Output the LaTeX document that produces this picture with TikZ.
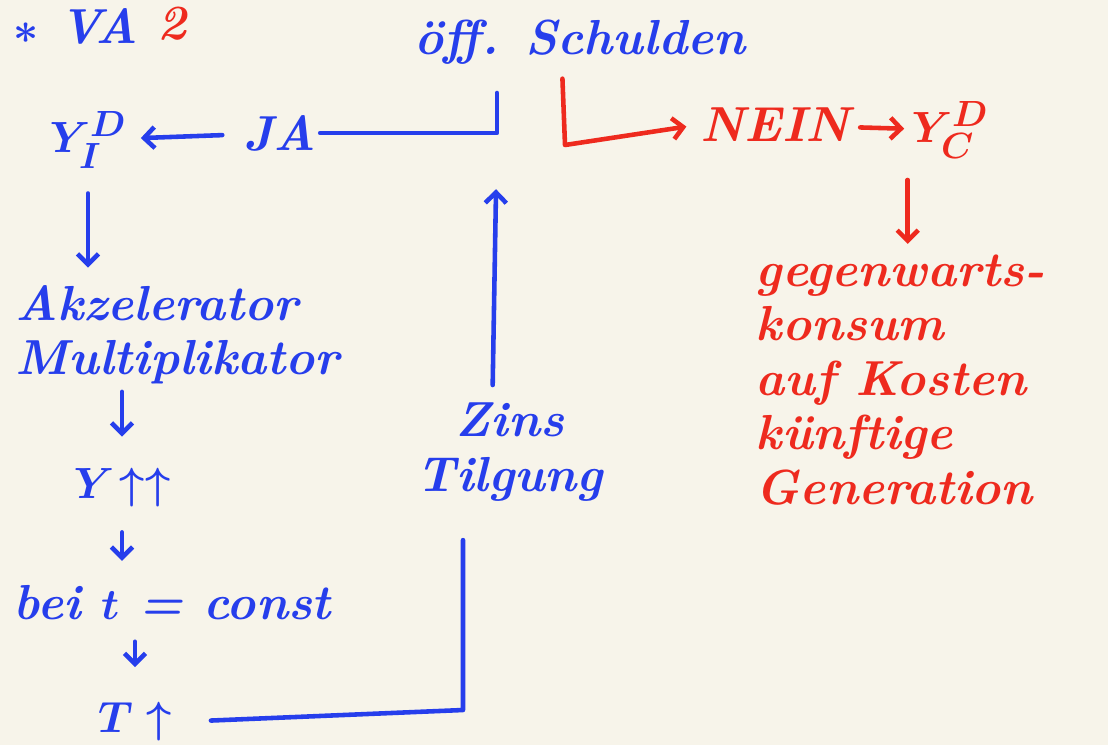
\documentclass[tikz,border=0pt]{standalone}
\usepackage{xcolor}
\usepackage{tikz}
\usepackage{amsmath}
\usetikzlibrary{arrows.meta, positioning}

\definecolor{stift}{RGB}{38,62,236}
\definecolor{rotstift}{RGB}{238,42,30}
\definecolor{papier}{RGB}{247,244,234}

\begin{document}
\begin{tikzpicture}[x=0.02cm,y=-0.02cm,
    hand/.style={font=\fontsize{28}{31}\selectfont\bfseries\itshape\boldmath, inner sep=2pt},
    strich/.style={line width=2.6pt, line cap=round, line join=round},
    pfeil/.style={strich, -{Straight Barb[length=6pt,width=12pt]}}]
        \fill[papier] (0,0) rectangle (1108,745);
        \useasboundingbox (0,0) rectangle (1108,745);
        % blau
        \begin{scope}[every node/.style={hand,text=stift}]
          \node (va) at (76,26) {$\ast$ VA};
          \node (schulden) at (580,42) {öff. Schulden};
          \node (yi) at (88,140) {$Y^{D}_{I}$};
          \node (ja) at (280,133) {JA};
          \node[align=left, anchor=west] (akz) at (12,335) {Akzelerator\\Multiplikator};
          \node (yup) at (122,488) {$Y\!\uparrow\uparrow$};
          \node[anchor=west] (bei) at (10,603) {bei $t$ = const};
          \node (tup) at (135,722) {$T\uparrow$};
          \node[align=center] (zins) at (510,452) {Zins\\Tilgung};
        \end{scope}
        % rot
        \begin{scope}[every node/.style={hand,text=rotstift}]
          \node (vamark) at (172,24) {2};
          \node (nein) at (775,125) {NEIN};
          \node (yc) at (950,130) {$Y^{D}_{C}$};
          \node[align=left, anchor=west] (gegen) at (752,380) {gegenwarts-\\konsum\\auf Kosten\\künftige\\Generation};
        \end{scope}
        \coordinate (knick) at (497,133);
        \coordinate (ecke) at (463,710);
        \coordinate (haken) at (565,145);
        \begin{scope}[every edge/.style={draw=stift,pfeil}]
          \path (ja) edge[shorten <=10pt, shorten >=6pt] (yi);
          \path (yi.south) edge[shorten <=12pt, shorten >=8pt] (yi.south |- akz.north);
          \path (yup.north |- akz.south) edge[shorten <=2pt, shorten >=16pt] (yup.north);
          \path (yup.south) edge[shorten <=12pt, shorten >=12pt] (yup.south |- bei.north);
          \path (tup.north |- bei.south) edge[shorten <=10pt, shorten >=18pt] (tup.north);
          \path ([xshift=-10pt]zins.north) edge[shorten <=8pt, shorten >=32pt] (knick);
        \end{scope}
        \draw[stift,strich] (ja.east) -- (knick) -- ++(0,-40);
        \draw[stift,strich,shorten <=20pt,shorten >=20pt] (tup.east) -- (ecke) -- (ecke |- zins.south);
        \begin{scope}[every edge/.style={draw=rotstift,pfeil}]
          \path (nein) edge[shorten <=4pt, shorten >=2pt] (yc);
          \path (yc.south west) edge[shorten <=10pt, shorten >=4pt] (yc.south west |- gegen.north);
        \end{scope}
        \draw[rotstift,pfeil,shorten >=6pt] ([xshift=-10pt,yshift=-6pt]schulden.south) -- (haken) -- (nein.west);
      \end{tikzpicture}
\end{document}
